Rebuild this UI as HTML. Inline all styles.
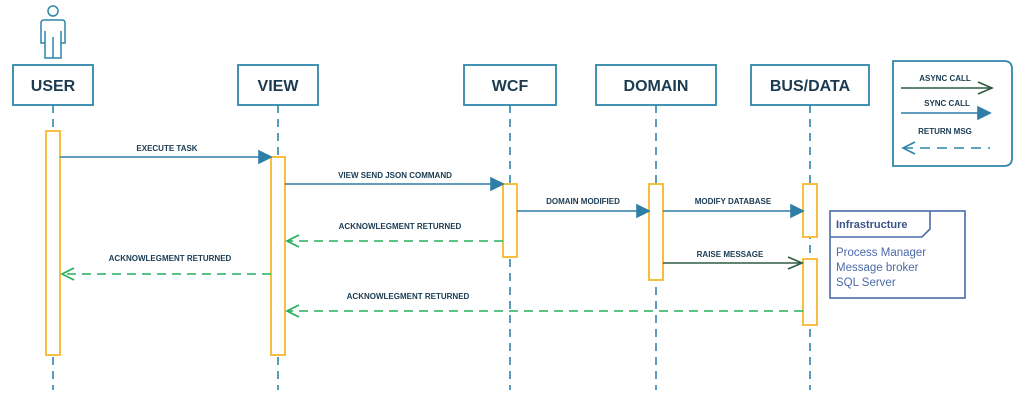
<!DOCTYPE html>
<html><head><style>body{margin:0;background:#fff}svg{display:block}text{font-family:"Liberation Sans",sans-serif}</style></head><body>
<svg width="1024" height="405" viewBox="0 0 1024 405" xmlns="http://www.w3.org/2000/svg">
<g fill="none" stroke="#2e86ab" stroke-width="1.6" stroke-dasharray="8,6">
<line x1="53" y1="105" x2="53" y2="390"/><line x1="278" y1="105" x2="278" y2="390"/><line x1="510" y1="105" x2="510" y2="390"/><line x1="656" y1="105" x2="656" y2="390"/><line x1="810" y1="105" x2="810" y2="390"/>
</g>
<g fill="#fff" stroke="#2e86ab" stroke-width="1.8">
<rect x="13" y="65" width="80" height="40"/><rect x="238" y="65" width="80" height="40"/><rect x="464" y="65" width="92" height="40"/><rect x="596" y="65" width="120" height="40"/><rect x="751" y="65" width="118" height="40"/>
<path d="M893 61 H1004 Q1012 61 1012 69 V158 Q1012 166 1004 166 H893 Z"/>
</g>
<g fill="#fff" stroke="#2e86ab" stroke-width="1.5">
<circle cx="53" cy="11" r="5"/>
<path d="M45 58 V43 H41 V23 Q41 20 44 20 H62 Q65 20 65 23 V43 H61 V58 Z"/>
<path d="M45 43 V31 M61 43 V31 M53 37 V58" fill="none"/>
</g>
<g font-weight="bold" font-size="16" fill="#1a3b52" text-anchor="middle">
<text x="53" y="91">USER</text><text x="278" y="91">VIEW</text><text x="510" y="91">WCF</text><text x="656" y="91">DOMAIN</text><text x="810" y="91">BUS/DATA</text>
</g>
<g fill="#fff" stroke="#f5b82e" stroke-width="1.8">
<rect x="46" y="131" width="14" height="224"/><rect x="271" y="157" width="14" height="198"/><rect x="503" y="184" width="14" height="73"/><rect x="649" y="184" width="14" height="96"/><rect x="803" y="184" width="14" height="53"/><rect x="803" y="259" width="14" height="66"/>
</g>
<g stroke="#2e7ea6" stroke-width="1.6" fill="#2e7ea6">
<line x1="60" y1="157" x2="260" y2="157"/><path d="M271 157 L259 151 V163Z"/>
<line x1="285" y1="184" x2="492" y2="184"/><path d="M503 184 L491 178 V190Z"/>
<line x1="517" y1="211" x2="638" y2="211"/><path d="M649 211 L637 205 V217Z"/>
<line x1="663" y1="211" x2="792" y2="211"/><path d="M803 211 L791 205 V217Z"/>
<line x1="901" y1="113" x2="980" y2="113"/><path d="M990 113 L978 107 V119Z"/>
</g>
<g stroke="#2f5b45" stroke-width="1.6" fill="none">
<line x1="663" y1="263" x2="802" y2="263"/><path d="M788 257 L802 263 L788 269"/>
<line x1="901" y1="88" x2="992" y2="88"/><path d="M978 82 L992 88 L978 94"/>
</g>
<g stroke="#22b05a" stroke-width="1.6" fill="none">
<line x1="503" y1="241" x2="287" y2="241" stroke-dasharray="9,6"/><path d="M299 235 L287 241 L299 247"/>
<line x1="271" y1="274" x2="62" y2="274" stroke-dasharray="9,6"/><path d="M74 268 L62 274 L74 280"/>
<line x1="803" y1="311" x2="287" y2="311" stroke-dasharray="9,6"/><path d="M299 305 L287 311 L299 317"/>
</g>
<g stroke="#2e86ab" stroke-width="1.6" fill="none">
<line x1="903" y1="148" x2="990" y2="148" stroke-dasharray="10,7"/><path d="M915 142 L903 148 L915 154"/>
</g>
<g font-weight="bold" font-size="8" fill="#1a3b52" text-anchor="middle">
<text x="167" y="151">EXECUTE TASK</text><text x="395" y="178">VIEW SEND JSON COMMAND</text><text x="583" y="204">DOMAIN MODIFIED</text><text x="733" y="204">MODIFY DATABASE</text>
<text x="400" y="229">ACKNOWLEGMENT RETURNED</text><text x="170" y="261">ACKNOWLEGMENT RETURNED</text><text x="730" y="257">RAISE MESSAGE</text><text x="408" y="299">ACKNOWLEGMENT RETURNED</text>
<text x="945" y="81">ASYNC CALL</text><text x="947" y="106">SYNC CALL</text><text x="945" y="134">RETURN MSG</text>
</g>
<rect x="830" y="211" width="135" height="87" fill="#fff" stroke="#4a6aa8" stroke-width="1.6"/>
<path d="M830 237 H922 L930 229 V211" fill="none" stroke="#4a6aa8" stroke-width="1.6"/>
<text x="836" y="228" font-size="11" font-weight="bold" fill="#3b5487">Infrastructure</text>
<g font-size="11.5" fill="#4a6aa8"><text x="836" y="256">Process Manager</text><text x="836" y="271">Message broker</text><text x="836" y="286">SQL Server</text></g>
</svg>
</body></html>
